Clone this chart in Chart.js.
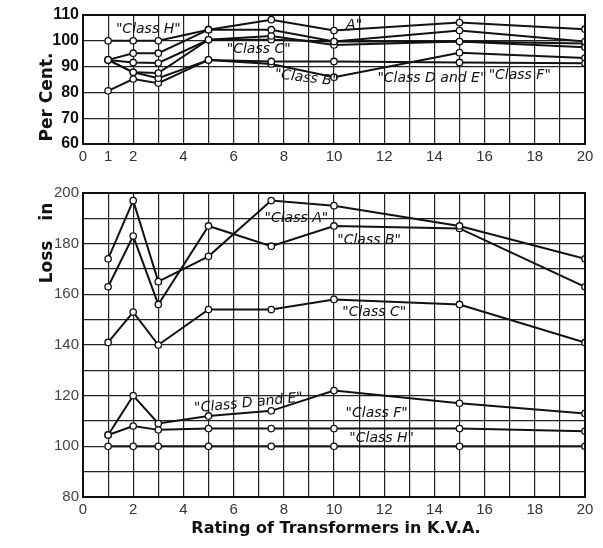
<!DOCTYPE html>
<html>
<head>
<meta charset="utf-8">
<script src="https://cdn.jsdelivr.net/npm/chart.js@4.4.1/dist/chart.umd.min.js"></script>
<style>
  body { margin: 0; background: #fff; width: 603px; height: 548px; position: relative; overflow: hidden; }
  canvas { position: absolute; left: 0; }
  #top { top: 0; }
  #bottom { top: 178px; }
  .lab { position: absolute; font-family: "DejaVu Sans", sans-serif; font-weight: bold; color: #111; white-space: nowrap; }
  .rot { transform: translate(-50%, -50%) rotate(-90deg); font-size: 17px; }
</style>
</head>
<body>
<canvas id="top" width="603" height="170"></canvas>
<canvas id="bottom" width="603" height="370"></canvas>
<div class="lab rot" style="left:46px; top:97px;">Per Cent.</div>
<div class="lab rot" style="left:46px; top:243px; word-spacing:14px;">Loss in</div>
<div class="lab" style="left:336px; top:527px; transform:translate(-50%,-50%); font-size:16px;">Rating of Transformers in K.V.A.</div>
<script>
// ratings in K.V.A.
const ratings = [1, 2, 3, 5, 7.5, 10, 15, 20];

// upper diagram, per cent
const topA  = [92.6, 95.2, 95.2, 104.3, 108.2, 104.0, 107.1, 104.5];
const topH  = [100, 100, 100, 104.3, 104.3, 99.7, 104.0, 99.7];
const topC  = [92.6, 91.6, 91.4, 100.4, 101.9, 98.4, 99.7, 97.5];
const topDE = [92.6, 87.8, 87.5, 100.4, 100.4, 99.7, 99.7, 99.0];
const topF  = [92.6, 87.8, 85.5, 92.6, 92.0, 92.0, 91.6, 91.3];
const topB  = [80.6, 85.2, 83.6, 92.6, 91.0, 85.9, 95.4, 93.3];

// lower diagram, loss in per cent
const lossA  = [174, 197, 165, 175, 197, 195, 187, 174];
const lossB  = [163, 183, 156, 187, 179, 187, 186, 163];
const lossC  = [141, 153, 140, 154, 154, 158, 156, 141];
const lossDE = [104.5, 120, 109, 112, 114, 122, 117, 113];
const lossF  = [104.5, 108, 106.5, 107, 107, 107, 107, 106];
const lossH  = [100, 100, 100, 100, 100, 100, 100, 100];

const topNotes = [
  { t: '"Class H"', x: 2.6, y: 104.5, r: 0 },
  { t: '"Class C"', x: 7.0, y: 96.5, r: 0 },
  { t: 'A"', x: 10.8, y: 106, r: 0 },
  { t: '"Class B"', x: 8.9, y: 85.5, r: 0.12 },
  { t: '"Class D and E"', x: 13.9, y: 85.5, r: 0 },
  { t: '"Class F"', x: 17.4, y: 86.5, r: 0 },
];
const bottomNotes = [
  { t: '"Class A"', x: 8.5, y: 190, r: 0 },
  { t: '"Class B"', x: 11.4, y: 181.5, r: 0 },
  { t: '"Class C"', x: 11.6, y: 153, r: 0 },
  { t: '"Class D and E"', x: 6.6, y: 117, r: -0.1 },
  { t: '"Class F"', x: 11.7, y: 113, r: 0 },
  { t: '"Class H"', x: 11.9, y: 103, r: 0 },
];

const toPts = (ys) => ratings.map((x, i) => ({ x: x, y: ys[i] }));

const makeSet = (ys) => ({
  data: toPts(ys),
  borderColor: '#111',
  borderWidth: 2,
  pointRadius: 3.2,
  pointBackgroundColor: '#fff',
  pointBorderColor: '#111',
  pointBorderWidth: 1.3,
  tension: 0,
});

const notesPlugin = (notes) => ({
  id: 'notes',
  afterDatasetsDraw(chart) {
    const ctx = chart.ctx;
    const a = chart.chartArea;
    ctx.save();
    ctx.strokeStyle = '#111';
    ctx.lineWidth = 2;
    ctx.strokeRect(a.left, a.top, a.right - a.left, a.bottom - a.top);
    ctx.font = 'italic 14px "DejaVu Sans", sans-serif';
    ctx.fillStyle = '#111';
    ctx.textAlign = 'center';
    ctx.textBaseline = 'middle';
    notes.forEach((n) => {
      const px = chart.scales.x.getPixelForValue(n.x);
      const py = chart.scales.y.getPixelForValue(n.y);
      ctx.save();
      ctx.translate(px, py);
      ctx.rotate(n.r);
      ctx.fillText(n.t, 0, 0);
      ctx.restore();
    });
    ctx.restore();
  },
});

const gridStyle = { color: '#222', lineWidth: 1.2, drawTicks: false };

const makeChart = (id, sets, yMin, yMax, yFont, yColor, xLabel, xHeight, notes) => {
  return new Chart(id, {
    type: 'line',
    data: { datasets: sets.map(makeSet) },
    options: {
      responsive: false,
      animation: false,
      layout: { autoPadding: false, padding: { top: 15, right: 18, left: 0, bottom: 0 } },
      plugins: { legend: { display: false }, tooltip: { enabled: false } },
      scales: {
        x: {
          type: 'linear', min: 0, max: 20,
          grid: gridStyle,
          border: { color: '#111', width: 2 },
          ticks: {
            stepSize: 1, autoSkip: false, maxRotation: 0, padding: 4,
            color: '#333',
            font: { family: '"Liberation Sans", sans-serif', size: 15 },
            callback: xLabel,
          },
          afterFit: (axis) => { axis.height = xHeight; },
        },
        y: {
          min: yMin, max: yMax,
          grid: gridStyle,
          border: { color: '#111', width: 2 },
          ticks: {
            stepSize: 10, padding: 4, color: yColor,
            font: yFont,
            callback: (v) => (yMax === 200 && v % 20 !== 0) ? '' : v,
          },
          afterFit: (axis) => { axis.width = 83; },
        },
      },
    },
    plugins: [notesPlugin(notes)],
  });
};

makeChart('top', [topA, topH, topC, topDE, topF, topB], 60, 110,
  { family: '"Liberation Sans", sans-serif', size: 16, weight: 'bold' }, '#111',
  (v) => (v === 1 || v % 2 === 0) ? v : '', 26, topNotes);

makeChart('bottom', [lossA, lossB, lossC, lossDE, lossF, lossH], 80, 200,
  { family: '"Liberation Sans", sans-serif', size: 15 }, '#444',
  (v) => (v % 2 === 0) ? v : '', 51, bottomNotes);
</script>
</body>
</html>
